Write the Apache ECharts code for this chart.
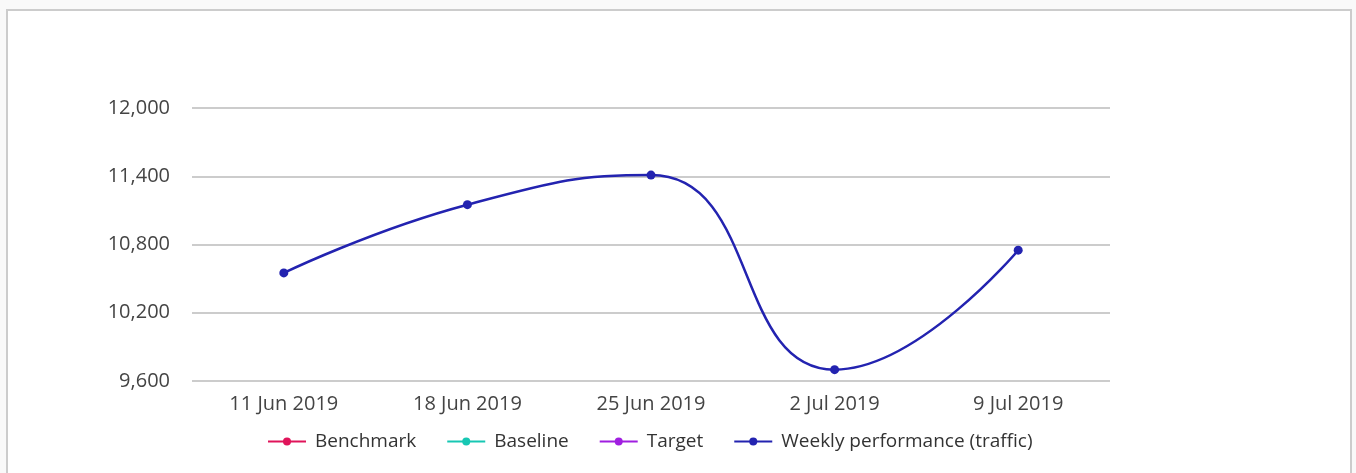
<!DOCTYPE html>
<html>
<head>
<meta charset="utf-8">
<script src="https://cdn.jsdelivr.net/npm/echarts@6/dist/echarts.min.js"></script>
<style>
  html, body { margin: 0; padding: 0; background: #f9f9f9; }
  .frame {
    position: absolute; left: 6px; top: 9px; width: 1342px; height: 480px;
    background: #fff; border: 2px solid #cccccc;
  }
  #chart { position: absolute; left: 0; top: 0; width: 1356px; height: 473px; }
</style>
</head>
<body>
<div class="frame"></div>
<div id="chart"></div>
<script>
const categories = ['11 Jun 2019', '18 Jun 2019', '25 Jun 2019', '2 Jul 2019', '9 Jul 2019']
const seriesNames = ['Benchmark', 'Baseline', 'Target', 'Weekly performance (traffic)']
const seriesColors = ['#e0145a', '#17c7b3', '#a01ee0', '#2323b0']
const benchmark = []
const baseline = []
const target = []
const weekly = [10550, 11150, 11410, 9700, 10750]
const yTicks = [9600, 10200, 10800, 11400, 12000]

const chart = echarts.init(document.getElementById('chart'), null, { renderer: 'canvas' })
const fontFamily = '"Open Sans", "Noto Sans", sans-serif'

const seriesData = [benchmark, baseline, target, weekly]

chart.setOption({
  animation: false,
  backgroundColor: 'transparent',
  color: seriesColors,
  textStyle: { fontFamily },
  grid: {
    left: 192,
    right: 246,
    top: 108,
    bottom: 92
  },
  legend: {
    bottom: 17,
    left: 262,
    itemWidth: 38,
    itemHeight: 10,
    itemGap: 30,
    textStyle: { fontSize: 19, color: '#333', fontFamily, padding: [0, 0, 0, 4] },
    data: seriesNames
  },
  xAxis: {
    type: 'category',
    data: categories,
    boundaryGap: true,
    axisLine: { show: false },
    axisTick: { show: false },
    axisLabel: { fontSize: 20, color: '#444', margin: 13 }
  },
  yAxis: {
    type: 'value',
    min: yTicks[0],
    max: yTicks[yTicks.length - 1],
    interval: 600,
    axisLine: { show: false },
    axisTick: { show: false },
    splitLine: { lineStyle: { color: '#cccccc', width: 2 } },
    axisLabel: {
      fontSize: 20,
      color: '#444',
      margin: 22,
      formatter: v => v.toLocaleString('en-US')
    }
  },
  series: seriesNames.map((name, i) => ({
    name,
    type: 'line',
    data: seriesData[i],
    smooth: 0.5,
    symbol: 'circle',
    symbolSize: 9,
    lineStyle: { width: 2.5, color: seriesColors[i] },
    itemStyle: { color: seriesColors[i] }
  }))
})
</script>
</body>
</html>
